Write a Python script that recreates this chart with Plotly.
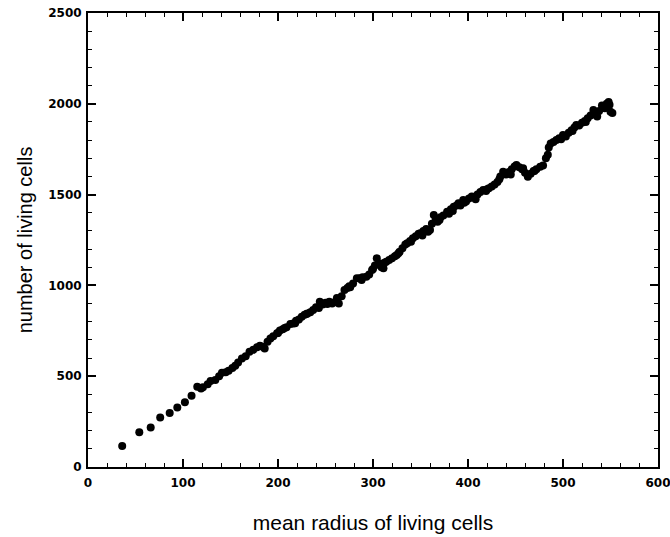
import plotly.graph_objects as go

radius = [36, 54, 66, 76, 86, 94, 102, 109, 115, 119, 121, 126, 129, 134, 138, 141, 145, 148,
          152, 155, 158, 162, 166, 170, 174, 178, 181, 184, 186, 189, 192, 195, 199, 202, 205,
          209, 213, 216, 219, 222, 225, 228, 231, 234, 237, 240, 244, 247, 250, 254, 257, 260,
          264, 267, 270, 273, 276, 279, 283, 286, 289, 293, 296, 299, 302, 304, 307, 309, 311,
          314, 317, 320, 323, 325, 328, 331, 334, 336, 339, 342, 345, 348, 350, 353, 356, 358,
          360, 362, 364, 366, 368, 371, 374, 378, 380, 382, 385, 388, 390, 392, 395, 398, 401,
          404, 407, 410, 413, 416, 419, 422, 425, 428, 431, 434, 437, 440, 443, 446, 449, 451,
          454, 457, 460, 463, 466, 469, 472, 476, 479, 482, 485, 487, 490, 493, 496, 500, 503,
          506, 509, 512, 514, 517, 520, 523, 526, 529, 532, 535, 538, 541, 544, 546, 548, 550,
          552,
          200, 207, 218, 230, 243, 252, 262, 275, 288, 300, 312, 327, 340, 352, 370, 384, 396,
          408, 420, 433, 445, 458, 470, 484, 498, 510, 524, 536, 545, 549]
cells = [116, 191, 218, 272, 297, 327, 356, 393, 442, 432, 439, 455, 473, 479, 500, 519, 522, 530,
         545, 558, 575, 598, 610, 635, 645, 660, 668, 662, 653, 690, 708, 720, 736, 752, 758,
         770, 787, 790, 805, 812, 828, 838, 845, 852, 864, 880, 910, 895, 905, 910, 900, 908,
         901, 940, 975, 985, 990, 1010, 1039, 1040, 1045, 1048, 1060, 1085, 1110, 1149, 1120, 1100, 1094,
         1130, 1140, 1150, 1160, 1167, 1185, 1205, 1225, 1232, 1245, 1260, 1270, 1285, 1287, 1300, 1310, 1295,
         1305, 1340, 1388, 1360, 1350, 1375, 1385, 1406, 1395, 1420, 1433, 1440, 1452, 1440, 1470, 1462, 1478,
         1490, 1485, 1500, 1515, 1525, 1520, 1535, 1545, 1555, 1570, 1600, 1626, 1610, 1625, 1640, 1655, 1663,
         1650, 1640, 1620, 1598, 1615, 1630, 1640, 1654, 1660, 1700, 1760, 1782, 1790, 1800, 1810, 1828, 1820,
         1840, 1855, 1870, 1883, 1880, 1895, 1905, 1920, 1935, 1966, 1940, 1960, 1990, 1975, 2000, 2010, 1956,
         1950,
         738, 765, 792, 842, 875, 898, 930, 995, 1030, 1090, 1125, 1178, 1240, 1275, 1360, 1410, 1455,
         1475, 1530, 1585, 1610, 1645, 1630, 1720, 1805, 1850, 1900, 1930, 1985, 1995]

x_ticks = [0, 100, 200, 300, 400, 500, 600]
y_ticks = [0, 500, 1000, 1500, 2000, 2500]

fig = go.Figure()
fig.add_trace(go.Scatter(
    x=radius, y=cells, mode="markers",
    marker=dict(color="black", size=8, line=dict(width=0)),
    showlegend=False,
))

axis_common = dict(
    showgrid=False, zeroline=False, showline=True, linecolor="black", linewidth=2,
    mirror="ticks", ticks="inside", ticklen=8, tickwidth=1.5, tickcolor="black",
    automargin=False, ticklabeloverflow="allow",
    tickfont=dict(family="DejaVu Sans", size=12, color="black", weight="bold"),
)

fig.update_layout(
    width=670, height=537,
    margin=dict(l=88, r=12, t=13, b=70),
    plot_bgcolor="white", paper_bgcolor="white",
    xaxis=dict(range=[0, 600], tickvals=x_ticks, ticklabelstandoff=4,
               minor=dict(dtick=20, ticks="inside", ticklen=4, tickcolor="black", tickwidth=1),
               title=dict(text="mean radius of living cells", standoff=26,
                          font=dict(family="Liberation Sans, Arial", size=21, color="black")),
               **axis_common),
    yaxis=dict(range=[0, 2500], tickvals=y_ticks, ticklabelstandoff=2,
               minor=dict(dtick=100, ticks="inside", ticklen=4, tickcolor="black", tickwidth=1),
               title=dict(text="number of living cells", standoff=10,
                          font=dict(family="Liberation Sans, Arial", size=20, color="black")),
               **axis_common),
)

fig.write_html("out.html", config={"displayModeBar": False},
               post_script="document.body.style.margin='0';")
